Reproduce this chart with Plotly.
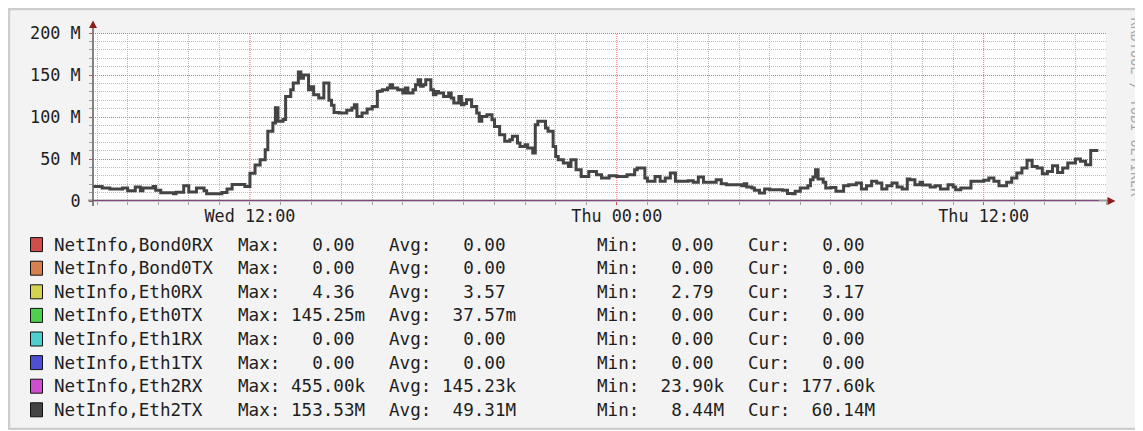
import plotly.graph_objects as go
import pandas as pd

# ------------------------------------------------------------------ data
start_time = "2024-01-03 06:50"      # Wednesday
step = "5min"
x_range = ["2024-01-03 06:52", "2024-01-04 16:00"]

# NetInfo,Eth2TX in M
eth2tx_M = [
    17.4, 17.4, 17.4, 17.4, 15.5, 15.5, 15.5, 14.3, 14.3, 14.3,
    14.3, 14.3, 15.5, 15.5, 12.3, 12.3, 12.3, 16.7, 16.7, 12.3,
    15.5, 15.5, 15.5, 15.5, 17.4, 12.7, 12.7, 9.9, 9.9, 9.9,
    9.9, 9.9, 8.7, 10.3, 10.3, 10.3, 18.2, 18.2, 10.7, 10.7,
    10.7, 15.5, 15.5, 15.5, 12.3, 8.6, 8.6, 8.6, 8.6, 8.5,
    8.5, 10.0, 10.0, 14.3, 14.3, 19.5, 19.5, 19.5, 19.5, 19.5,
    17.4, 17.4, 33.0, 33.0, 43.0, 43.0, 49.0, 49.0, 61.0, 83.0,
    83.0, 93.0, 111.0, 95.0, 95.0, 97.0, 124.5, 124.5, 132.5, 140.5,
    140.5, 153.5, 146.0, 150.0, 150.0, 132.5, 136.0, 126.5, 126.5, 122.6,
    122.6, 140.5, 140.5, 120.0, 114.0, 105.5, 105.5, 104.8, 104.8, 104.8,
    108.0, 108.0, 110.7, 114.6, 100.7, 100.7, 104.8, 104.8, 109.5, 109.5,
    112.6, 112.6, 130.5, 131.0, 132.5, 132.5, 134.5, 138.5, 134.5, 134.5,
    132.5, 132.5, 128.6, 134.5, 128.6, 128.6, 132.5, 138.5, 144.4, 136.5,
    138.5, 144.4, 144.4, 132.5, 126.5, 130.5, 128.6, 128.6, 124.5, 124.5,
    128.6, 122.6, 116.7, 116.7, 124.5, 114.6, 116.0, 120.6, 120.6, 112.6,
    112.6, 104.8, 94.8, 100.7, 100.7, 102.7, 102.7, 96.8, 88.8, 88.8,
    78.9, 78.9, 71.0, 71.0, 73.0, 77.0, 77.0, 69.0, 65.0, 65.0,
    67.0, 63.0, 63.0, 57.0, 90.8, 94.8, 94.8, 94.8, 86.9, 82.9,
    82.9, 65.0, 53.0, 49.2, 49.2, 45.2, 45.2, 41.2, 49.2, 49.2,
    37.3, 37.3, 29.3, 29.3, 29.3, 35.2, 35.2, 35.2, 31.3, 31.3,
    27.4, 27.4, 27.4, 30.1, 30.1, 30.1, 29.3, 29.3, 29.3, 29.3,
    31.3, 31.3, 31.3, 37.3, 39.3, 39.3, 39.3, 27.4, 23.4, 23.4,
    23.4, 29.3, 29.3, 23.4, 23.4, 27.4, 27.4, 33.3, 33.3, 23.4,
    23.4, 23.4, 23.4, 23.4, 24.0, 24.0, 22.2, 22.2, 28.5, 28.5,
    22.2, 22.2, 22.2, 22.2, 22.2, 25.4, 25.4, 20.6, 20.6, 19.4,
    19.4, 19.4, 19.4, 19.4, 19.4, 18.2, 20.6, 16.7, 16.7, 15.5,
    12.7, 12.7, 9.5, 9.5, 14.3, 14.3, 13.5, 13.5, 13.5, 13.5,
    13.5, 12.7, 12.7, 9.0, 9.0, 8.5, 11.5, 11.5, 15.5, 15.5,
    15.5, 18.2, 25.4, 28.5, 37.3, 26.2, 26.2, 22.2, 15.5, 15.5,
    16.0, 16.0, 11.5, 11.5, 11.5, 18.2, 18.2, 19.4, 19.4, 19.4,
    21.4, 21.4, 14.3, 14.3, 18.2, 18.2, 23.4, 23.4, 21.4, 21.4,
    14.3, 14.3, 18.2, 18.2, 21.4, 21.4, 16.7, 16.7, 14.3, 14.3,
    26.2, 25.4, 25.4, 19.4, 19.4, 22.2, 19.0, 19.0, 19.0, 16.7,
    16.7, 18.2, 18.2, 14.3, 14.3, 14.3, 19.4, 19.4, 16.7, 13.5,
    13.5, 15.5, 15.5, 15.5, 15.5, 23.4, 23.4, 23.4, 23.4, 23.4,
    24.6, 24.6, 27.4, 27.4, 23.4, 23.4, 18.2, 18.2, 18.2, 22.2,
    22.2, 27.4, 27.4, 33.3, 33.3, 39.3, 39.3, 48.4, 48.4, 41.2,
    41.2, 39.3, 39.3, 32.5, 32.5, 35.2, 35.2, 42.0, 42.0, 34.0,
    34.0, 39.3, 39.3, 45.2, 45.2, 45.2, 50.0, 50.0, 47.2, 47.2,
    43.2, 43.2, 60.1, 60.1, 60.14,
]

series_names = ["NetInfo,Bond0RX", "NetInfo,Bond0TX", "NetInfo,Eth0RX", "NetInfo,Eth0TX",
                "NetInfo,Eth1RX", "NetInfo,Eth1TX", "NetInfo,Eth2RX", "NetInfo,Eth2TX"]
series_colors = ["#d24c4c", "#d6804e", "#d4d24e", "#4ecf4e",
                 "#4ecfcf", "#4e4ed6", "#cf4ecf", "#444444"]
# flat levels (M) of the near-zero series (their averages)
flat_levels_M = [0.0, 0.0, 3.57e-6, 37.57e-9, 0.0, 0.0, 0.14523]

max_vals = [0.00, 0.00, 4.36, 145.25, 0.00, 0.00, 455.00, 153.53]
max_units = ["", "", "", "m", "", "", "k", "M"]
avg_vals = [0.00, 0.00, 3.57, 37.57, 0.00, 0.00, 145.23, 49.31]
avg_units = ["", "", "", "m", "", "", "k", "M"]
min_vals = [0.00, 0.00, 2.79, 0.00, 0.00, 0.00, 23.90, 8.44]
min_units = ["", "", "", "", "", "", "k", "M"]
cur_vals = [0.00, 0.00, 3.17, 0.00, 0.00, 0.00, 177.60, 60.14]
cur_units = ["", "", "", "", "", "", "k", "M"]

y_tick_vals = [0, 50, 100, 150, 200]
y_tick_labels = ["0", "50 M", "100 M", "150 M", "200 M"]
watermark = "RRDTOOL / TOBI OETIKER"

# ------------------------------------------------------------------ layout geometry
OFF = 8                                  # page body margin
W, H = 1143, 422
PL, PR, PT, PB = 93, 1106, 33, 201       # plot area in page pixels
L, R, T, B = PL - OFF, PR - OFF, PT - OFF, PB - OFF
MONO = "DejaVu Sans Mono"
half_px_M = 0.5 * 200 / (PB - PT)        # half a pixel in y-axis units


def px(x):          # page pixel -> paper x
    return (x - PL) / (PR - PL)


def py(y):          # page pixel -> paper y
    return (PB - y) / (PB - PT)


times = pd.date_range(start_time, periods=len(eth2tx_M) + 1, freq=step)

# grid positions (major every 12 h / 50 M, minor every hour / 10 M)
hours = pd.date_range(pd.Timestamp(x_range[0]).ceil("h"), x_range[1], freq="h")
x_major = [h for h in hours if h.hour % 12 == 0]
x_minor = [h for h in hours if h.hour % 12 != 0]
y_minor = [v for v in range(0, 201, 10) if v % 50 != 0]

fig = go.Figure()
for name, color, lvl in zip(series_names[:-1], series_colors[:-1], flat_levels_M):
    fig.add_trace(go.Scatter(x=[times[0], times[-1]], y=[lvl, lvl], mode="lines",
                             line=dict(color=color, width=2), name=name,
                             showlegend=False, hoverinfo="skip"))
fig.add_trace(go.Scatter(x=times, y=eth2tx_M + [eth2tx_M[-1]], mode="lines",
                         line=dict(color=series_colors[-1], width=3, shape="hv"),
                         name=series_names[-1], showlegend=False))

grid_major = "rgba(240,80,80,0.9)"
grid_minor = "rgba(160,160,160,0.7)"

fig.update_xaxes(
    type="date", range=x_range, tickmode="array", tickvals=x_major,
    tickformat="%a %H:%M", showgrid=False, ticks="outside", ticklen=3, tickcolor="#d05050",
    showline=False, zeroline=False, tickfont=dict(family=MONO, size=16.8, color="#1e1e1e"),
    ticklabelstandoff=-3,
    minor=dict(tickmode="array", tickvals=x_minor, showgrid=True,
               gridcolor=grid_minor, griddash="1px,1px", gridwidth=1,
               ticks="outside", ticklen=3, tickcolor="#a0a0a0"),
)
fig.update_yaxes(
    range=[0, 200], tickmode="array", tickvals=y_tick_vals, ticktext=y_tick_labels,
    showgrid=False, ticks="outside", ticklen=3, tickcolor="#d05050", showline=False,
    zeroline=False, tickfont=dict(family=MONO, size=16.8, color="#1e1e1e"),
    ticklabelstandoff=5,
    minor=dict(tickmode="array", tickvals=y_minor, showgrid=True,
               gridcolor=grid_minor, griddash="1px,1px", gridwidth=1,
               ticks="outside", ticklen=3, tickcolor="#a0a0a0"),
)

shapes = []
# major grid (red dotted), nudged half a pixel to stay crisp
for t in x_major:
    shapes.append(dict(type="line", xref="x", yref="paper", x0=t, x1=t, y0=0, y1=1,
                       line=dict(color=grid_major, width=1, dash="1px,1px"), layer="below"))
for v in y_tick_vals[1:]:
    shapes.append(dict(type="line", xref="paper", yref="y", x0=0, x1=1,
                       y0=v - half_px_M, y1=v - half_px_M,
                       line=dict(color=grid_major, width=1, dash="1px,1px"), layer="below"))
# grey frame of the image
shapes.append(dict(type="rect", xref="paper", yref="paper", x0=px(9), x1=px(W + 40),
                   y0=py(9), y1=py(429), line=dict(color="#cdcdcd", width=2.5), layer="above"))
# x axis line (blends with the zero lines) and y axis line
shapes.append(dict(type="line", xref="paper", yref="paper", x0=px(88), x1=px(1108),
                   y0=py(200.5), y1=py(200.5), line=dict(color="rgba(60,60,60,0.5)", width=2),
                   layer="above"))
shapes.append(dict(type="line", xref="paper", yref="paper", x0=px(93), x1=px(93),
                   y0=py(206), y1=py(27), line=dict(color="#5c5c5c", width=1.5), layer="above"))
# arrow heads
shapes.append(dict(type="path", xref="paper", yref="paper",
                   path=f"M {px(93)},{py(20.5)} L {px(89)},{py(28)} L {px(97)},{py(28)} Z",
                   fillcolor="#8e1c1c", line=dict(width=0), layer="above"))
shapes.append(dict(type="path", xref="paper", yref="paper",
                   path=f"M {px(1115.5)},{py(201)} L {px(1107.5)},{py(197)} L {px(1107.5)},{py(205)} Z",
                   fillcolor="#8e1c1c", line=dict(width=0), layer="above"))

annotations = []
row0, row_step = 244.6, 23.6
col_x = {"name": 52.3, "max": 235.7, "avg": 386.7, "min": 594.7, "cur": 745.7}
legend_font = dict(family=MONO, size=17.6, color="#1e1e1e")


def fmt(label, val, unit):
    return f"{label}{val:7.2f}{unit}"


for i, name in enumerate(series_names):
    yc = row0 + i * row_step
    shapes.append(dict(type="rect", xref="paper", yref="paper", x0=px(30.5), x1=px(42.5),
                       y0=py(yc - 7), y1=py(yc + 7), fillcolor=series_colors[i],
                       line=dict(color="#111111", width=1), layer="above"))
    cols = [("name", name),
            ("max", fmt("Max:", max_vals[i], max_units[i])),
            ("avg", fmt("Avg:", avg_vals[i], avg_units[i])),
            ("min", fmt("Min:", min_vals[i], min_units[i])),
            ("cur", fmt("Cur:", cur_vals[i], cur_units[i]))]
    for key, txt in cols:
        annotations.append(dict(xref="paper", yref="paper", x=px(col_x[key]), y=py(yc),
                                xanchor="left", yanchor="middle", showarrow=False,
                                text=txt.replace(" ", "&nbsp;"), font=legend_font))

annotations.append(dict(xref="paper", yref="paper", x=px(1136), y=py(107.5), xanchor="center",
                        yanchor="middle", showarrow=False, textangle=90, text=watermark,
                        font=dict(family=MONO, size=13.5, color="#a8a8a8")))

fig.update_layout(
    width=W, height=H, margin=dict(l=L, r=W - R, t=T, b=H - B, pad=0),
    paper_bgcolor="#f3f3f3", plot_bgcolor="white", showlegend=False,
    shapes=shapes, annotations=annotations,
)

fig.write_html("out.html")
